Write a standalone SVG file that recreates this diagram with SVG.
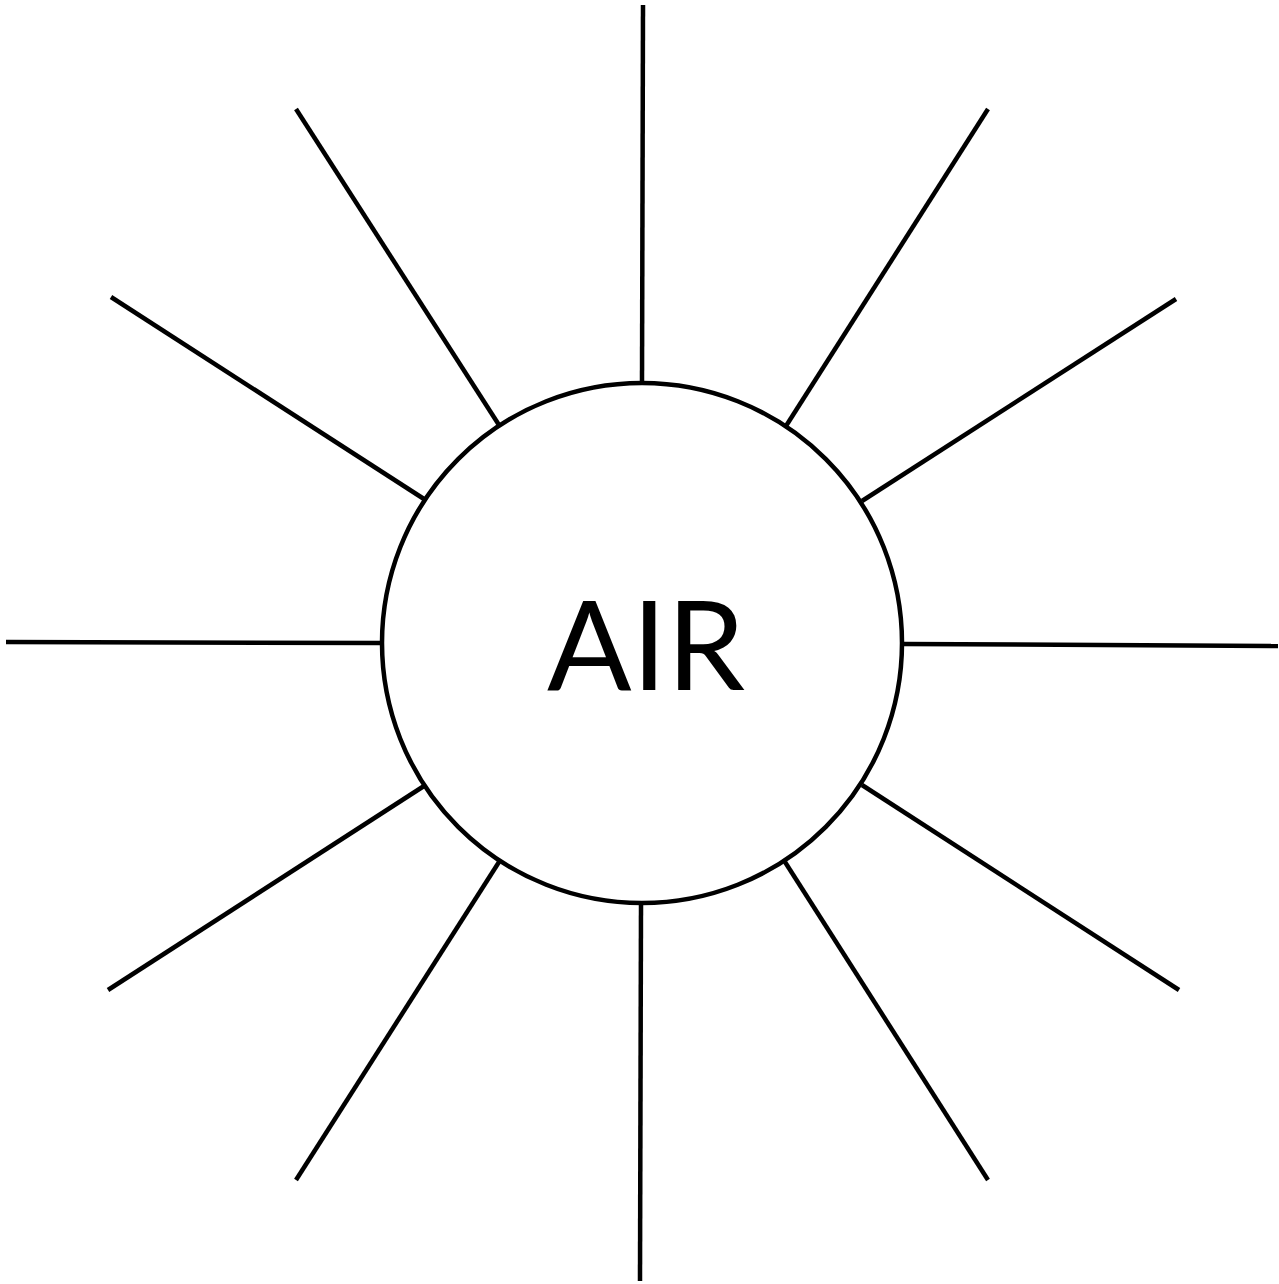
<svg xmlns="http://www.w3.org/2000/svg" width="1279" height="1284" viewBox="0 0 1279 1284">
<style>
.ray{stroke:#000;stroke-width:4.5;fill:none}
.node{fill:#fff;stroke:#000;stroke-width:4.5}
.lbl{font-family:Lato,"Liberation Sans",sans-serif;font-size:125px;fill:#000}
</style>
<rect width="1279" height="1284" fill="#fff"/>
<g id="connectors">
<line class="ray" x1="643" y1="5" x2="642" y2="383"/>
<line class="ray" x1="641" y1="904" x2="640" y2="1281"/>
<line class="ray" x1="6" y1="642" x2="382" y2="643"/>
<line class="ray" x1="903" y1="644" x2="1278" y2="646"/>
<line class="ray" x1="296" y1="109" x2="499" y2="425"/>
<line class="ray" x1="111" y1="297" x2="424" y2="499"/>
<line class="ray" x1="988" y1="109" x2="786" y2="426"/>
<line class="ray" x1="1176" y1="299" x2="862" y2="501"/>
<line class="ray" x1="108" y1="990" x2="424" y2="786"/>
<line class="ray" x1="296" y1="1180" x2="499" y2="862"/>
<line class="ray" x1="862" y1="785" x2="1179" y2="990"/>
<line class="ray" x1="785" y1="862" x2="988" y2="1180"/>
</g>
<g id="air">
<circle class="node" cx="642" cy="643" r="260"/>
<text class="lbl" x="646" y="690" text-anchor="middle">AIR</text>
</g>
</svg>
